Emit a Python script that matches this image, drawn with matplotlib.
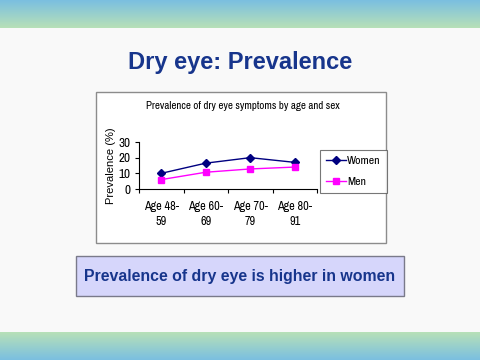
import matplotlib

matplotlib.use("Agg")
import matplotlib.pyplot as plt
import numpy as np
from matplotlib.patches import Rectangle

plt.rcParams["font.family"] = ["Liberation Sans", "DejaVu Sans"]
NARROW = ["Archivo Narrow", "PT Sans Narrow", "Liberation Sans", "DejaVu Sans"]

# chart data
categories = ["Age 48-\n59", "Age 60-\n69", "Age 70-\n79", "Age 80-\n91"]
women = [10, 16.5, 20, 17]
men = [6, 10.7, 12.8, 14]
y_ticks = [0, 10, 20, 30]

SLIDE_TITLE = "Dry eye: Prevalence"
CHART_TITLE = "Prevalence of dry eye symptoms by age and sex"
NOTE = "Prevalence of dry eye is higher in women"
NAVY = "#17358c"

W, H = 480, 360
fig = plt.figure(figsize=(W / 100, H / 100), dpi=100)
fig.patch.set_facecolor("#f9f9f9")

# background layer in pixel coordinates (y pointing down)
bg = fig.add_axes([0, 0, 1, 1])
bg.axis("off")

blue = np.array([0.48, 0.75, 0.88])
green = np.array([0.72, 0.88, 0.72])
t = np.linspace(0, 1, 50)[:, None]
top_grad = (blue * (1 - t) + green * t)[:, None, :]
bg.imshow(top_grad, extent=[0, W, 28, 0], aspect="auto", interpolation="bilinear")
bot_grad = (green * (1 - t) + blue * t)[:, None, :]
bg.imshow(bot_grad, extent=[0, W, H, 332], aspect="auto", interpolation="bilinear")
bg.set_xlim(0, W)
bg.set_ylim(H, 0)

bg.text(240, 62, SLIDE_TITLE, ha="center", va="center", fontsize=17,
        fontweight="bold", color=NAVY)

# chart frame
bg.add_patch(Rectangle((96, 92), 290, 151, facecolor="white", edgecolor="#8c8c8c", lw=1))
bg.text(243, 106, CHART_TITLE, ha="center", va="center", fontsize=7.9,
        family=NARROW, color="black")

# conclusion box
bg.add_patch(Rectangle((76, 256), 328, 40, facecolor="#d6d6fb", edgecolor="#7a7a8a", lw=1))
bg.text(240, 276, NOTE, ha="center", va="center", fontsize=11.4,
        fontweight="bold", color=NAVY)

# plot area
ax = fig.add_axes([139 / W, 1 - 189 / H, 178 / W, 47 / H])
ax.patch.set_alpha(0)
x = np.arange(len(categories))
ax.plot(x, women, color="#000080", marker="D", markersize=4, lw=1, label="Women")
ax.plot(x, men, color="#ff00ff", marker="s", markersize=4.5, lw=1, label="Men")
ax.set_xlim(-0.5, len(categories) - 0.5)
ax.set_ylim(0, 30)
ax.set_yticks(y_ticks)
ax.set_yticklabels([str(v) for v in y_ticks], family=NARROW, fontsize=9.5,
                   fontweight="bold")
ax.set_xticks(np.arange(len(categories) + 1) - 0.5, minor=False)
ax.set_xticklabels([])
ax.set_xticks(x, minor=True)
ax.set_xticklabels(categories, minor=True, fontsize=8.8, family=NARROW, linespacing=1.4)
ax.tick_params(axis="x", which="minor", length=0, pad=9)
ax.tick_params(axis="x", which="major", length=3, direction="out")
ax.tick_params(axis="y", length=3, pad=3)
for side in ("top", "right"):
    ax.spines[side].set_visible(False)
for side in ("left", "bottom"):
    ax.spines[side].set_color("black")
    ax.spines[side].set_linewidth(0.8)
ax.set_ylabel("Prevalence (%)", fontsize=8, labelpad=2)

leg = fig.legend(loc="center", bbox_to_anchor=(353.5 / W, 1 - 171.5 / H),
                 prop={"family": NARROW, "size": 8.5},
                 frameon=True, fancybox=False, handlelength=1.7, borderpad=0.5,
                 labelspacing=0.9, handletextpad=0.1, borderaxespad=0)
leg.get_frame().set_edgecolor("#555555")
leg.get_frame().set_linewidth(0.8)

fig.savefig("out.png", dpi=100)
